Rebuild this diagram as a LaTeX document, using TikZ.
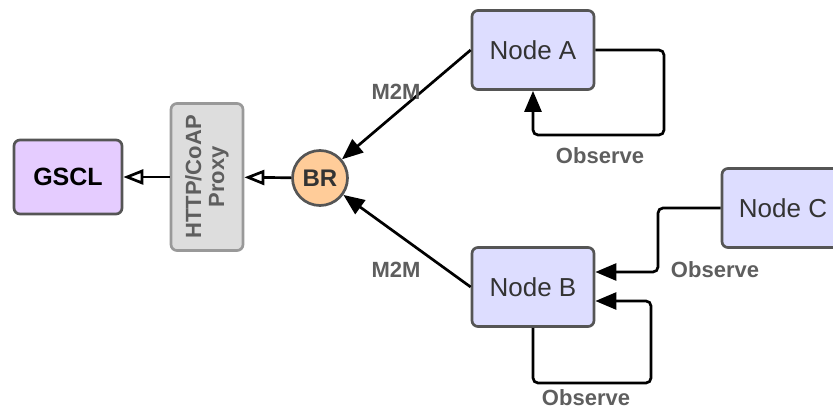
\documentclass[tikz,border=0pt]{standalone}
\usepackage{fontspec}
\setmainfont{Liberation Sans}
\usetikzlibrary{arrows.meta}
\definecolor{nodefill}{HTML}{DDDDFF}
\definecolor{gsclfill}{HTML}{E5CCFF}
\definecolor{proxyfill}{HTML}{DDDDDD}
\definecolor{brfill}{HTML}{FFCC99}
\definecolor{edge}{HTML}{555555}
\definecolor{lblgray}{HTML}{5E5E5E}
\begin{document}
\begin{tikzpicture}
	[x=1pt, y=-1pt, line width=2.7pt,
	box/.style={draw=edge, rounded corners=6pt, minimum width=122pt, minimum height=79pt,
		fill=nodefill, text=black!80, font=\fontsize{26}{30}\selectfont},
	lbl/.style={text=lblgray, font=\fontsize{22}{25}\selectfont\bfseries},
	solid arrow/.style={-{Triangle[length=21pt,width=17pt]}},
	open arrow/.style={-{Triangle[open,length=20pt,width=15pt,fill=white]}}]
	\useasboundingbox (0,0) rectangle (833,409);
	\node (gscl) [box, fill=gsclfill, minimum width=108pt, minimum height=74pt, text=black,
		font=\fontsize{25}{29}\selectfont\bfseries] at (68,177) {GSCL};
	\node (proxy) [draw=edge!60, fill=proxyfill, rounded corners=6pt, minimum width=147pt,
		minimum height=72pt, rotate=90, align=center, lbl, font=\fontsize{22}{25}\selectfont\bfseries]
		at (207,177) {HTTP/CoAP\\[-2pt]Proxy};
	\node (br) [circle, draw=edge, fill=brfill, minimum size=55pt, inner sep=0pt, text=black!80,
		font=\fontsize{24}{28}\selectfont\bfseries] at (320,178) {BR};
	\node (na) [box] at (533,50) {Node A};
	\node (nb) [box] at (533,287) {Node B};
	\node (nc) [box] at (783,208) {Node C};
	\draw [open arrow] (proxy) -- (gscl);
	\draw [open arrow] (br) -- (proxy);
	\draw [solid arrow] (na.west) -- (br);
	\draw [solid arrow] (nb.west) -- (br);
	\draw [solid arrow, rounded corners=5pt] (na.east) -- (664,50) -- (664,135) -- (533,135) -- (na.south);
	\draw [solid arrow, rounded corners=5pt] (nc.west) -- (658,208) -- (658,272) -- (nb.east |- 0,272);
	\draw [solid arrow, rounded corners=5pt] (nb.south) -- (533,383) -- (651,383) -- (651,301) -- (nb.east |- 0,301);
	\node (m2ma) [lbl] at (396,92) {M2M};
	\node (m2mb) [lbl] at (396,270) {M2M};
	\node (obsa) [lbl] at (600,156) {Observe};
	\node (obsc) [lbl] at (715,270) {Observe};
	\node (obsb) [lbl] at (586,398) {Observe};
\end{tikzpicture}
\end{document}
